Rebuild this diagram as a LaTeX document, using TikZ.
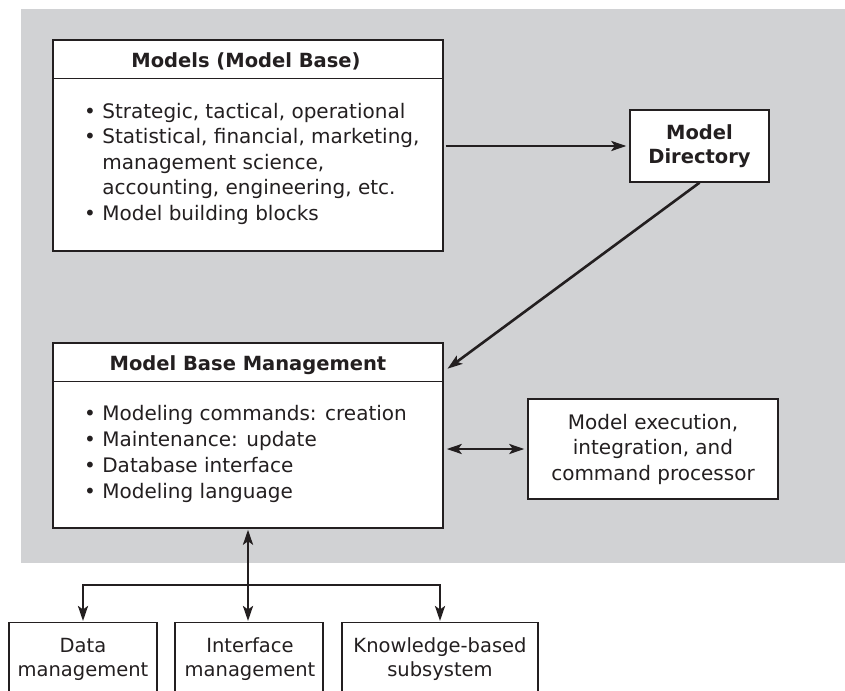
\documentclass[tikz,border=0pt]{standalone}
\usepackage{fontspec}
\setmainfont{DejaVu Sans}
\usetikzlibrary{arrows.meta,calc}
\definecolor{bggray}{RGB}{209,210,212}
\definecolor{ink}{RGB}{35,31,32}
\begin{document}
\begin{tikzpicture}[x=1pt,y=-1pt,
  >={Stealth[length=15pt,width=10pt,inset=3.5pt]},
  box/.style={draw=ink,line width=1.4pt,fill=white,inner sep=0pt},
  divider/.style={draw=ink,line width=1.4pt},
  conn/.style={draw=ink,line width=2.6pt,->},
  conn2/.style={draw=ink,line width=2.6pt,<->},
  txt/.style={text=ink,inner sep=0pt,font=\fontsize{20}{25.5}\selectfont},
  btxt/.style={text=ink,inner sep=0pt,font=\fontsize{19.5}{24}\selectfont\bfseries}
]
\useasboundingbox (0,0) rectangle (845,690);
\clip (0,0) rectangle (845,690);
\fill[bggray] (21,9) rectangle (845,563);

% Models (Model Base)
\node[box,minimum width=390,minimum height=211] (models) at (248,145.5) {};
\draw[divider] ($(models.north west)+(0,39)$) -- ($(models.north east)+(0,39)$);
\node[btxt,anchor=base] (modelsT) at (246,68) {Models (Model Base)};
\node[txt,anchor=base west,align=left] (modelsB) at (84,220)
  {\textbullet\ Strategic, tactical, operational\\
   \textbullet\ Statistical, financial, marketing,\\
   \hphantom{\textbullet\ }management science,\\
   \hphantom{\textbullet\ }accounting, engineering, etc.\\
   \textbullet\ Model building blocks};

% Model Directory
\node[box,minimum width=139,minimum height=72] (mdir) at (699.5,146) {};
\node[btxt,align=center] (mdirT) at (mdir.center) {Model\\Directory};

% Model Base Management
\node[box,minimum width=390,minimum height=185] (mbm) at (248,435.5) {};
\draw[divider] ($(mbm.north west)+(0,39)$) -- ($(mbm.north east)+(0,39)$);
\node[btxt,anchor=base] (mbmT) at (248,370) {Model Base Management};
\node[txt,anchor=base west,align=left,font=\fontsize{20}{26}\selectfont] (mbmB) at (84,498)
  {\textbullet\ Modeling commands: creation\\
   \textbullet\ Maintenance: update\\
   \textbullet\ Database interface\\
   \textbullet\ Modeling language};

% Model execution
\node[box,minimum width=250,minimum height=100] (exec) at (653,449) {};
\node[txt,align=center] (execT) at (exec.center) {Model execution,\\integration, and\\command processor};

% Bottom boxes
\node[box,minimum width=148,minimum height=100,anchor=north] (b1) at (83,622) {};
\node[box,minimum width=148,minimum height=100,anchor=north] (b2) at (249,622) {};
\node[box,minimum width=196,minimum height=100,anchor=north] (b3) at (440,622) {};
\node[txt,anchor=base,align=center,font=\fontsize{19.5}{24}\selectfont] (b1T) at (83,676) {Data\\management};
\node[txt,anchor=base,align=center,font=\fontsize{19.5}{24}\selectfont] (b2T) at (250,676) {Interface\\management};
\node[txt,anchor=base,align=center,font=\fontsize{19.5}{24}\selectfont] (b3T) at (440,676) {Knowledge-based\\subsystem};

% Connectors
\draw[conn,shorten <=2pt,shorten >=3pt] (models.east |- mdir.west) -- (mdir.west);
\coordinate (mbmtip) at ($(mbm.north east)+(3,27)$);
\draw[conn,shorten >=1pt] (mdir.south) -- (mbmtip);
\draw[conn2,shorten <=3pt,shorten >=3pt] (mbm.east |- exec.west) -- (exec.west);
\coordinate (split) at (mbm.south |- 0,585);
\draw[conn2,shorten <=1pt,shorten >=1pt] (mbm.south) -- (mbm.south |- b2.north);
\draw[conn,shorten >=1pt] (split) -| (b1.north);
\draw[conn,shorten >=1pt] (split) -| (b3.north);
\end{tikzpicture}
\end{document}
